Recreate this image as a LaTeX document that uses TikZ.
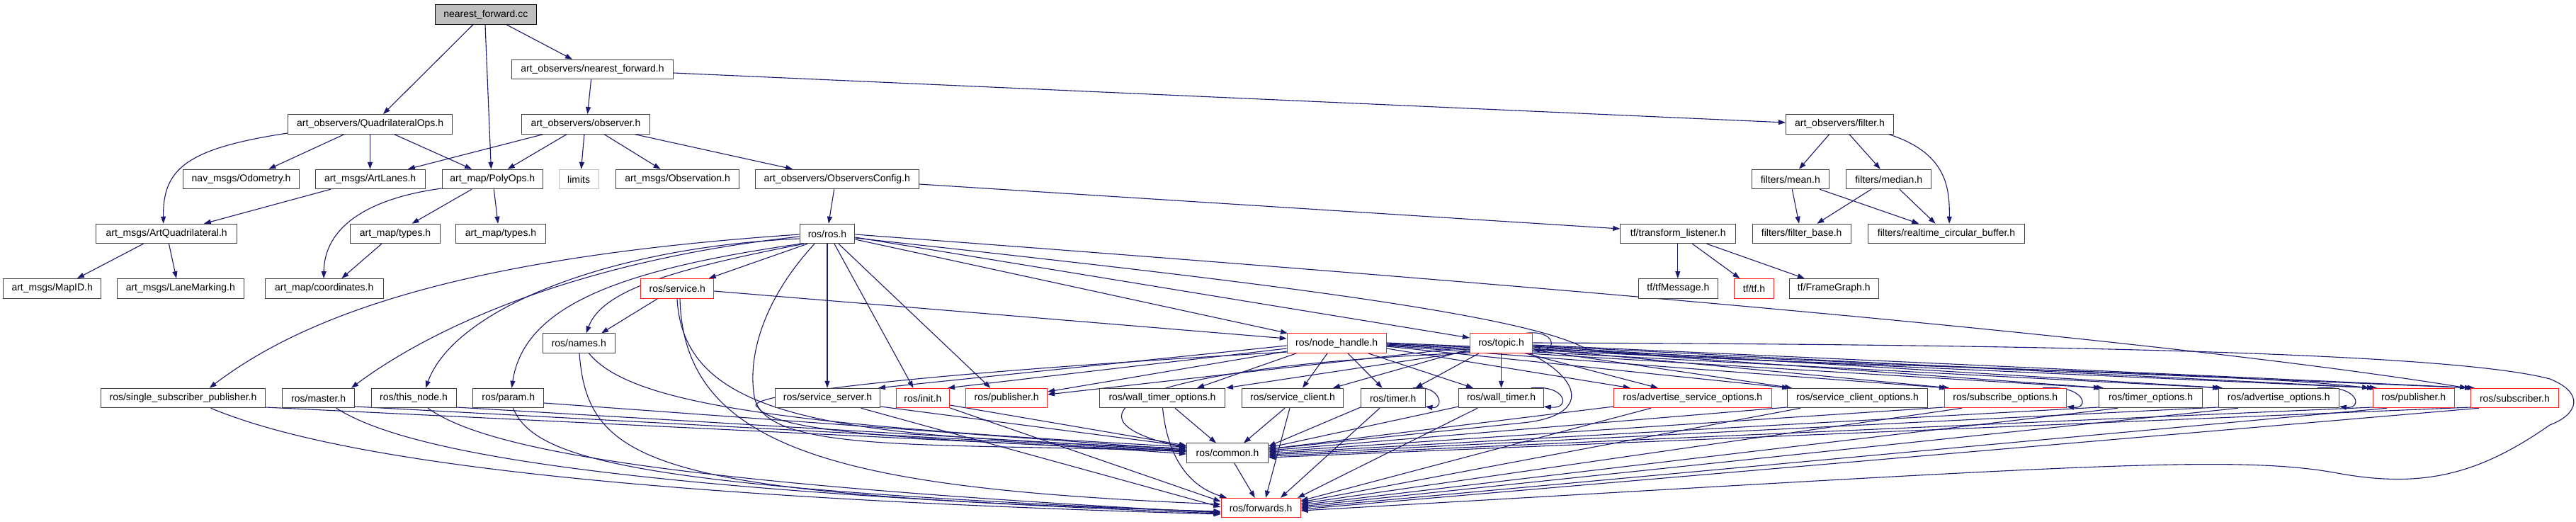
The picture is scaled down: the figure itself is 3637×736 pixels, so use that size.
\documentclass[tikz,border=0pt]{standalone}
\usepackage{fontspec}
\setmainfont{Liberation Sans}
\usetikzlibrary{arrows.meta}
\definecolor{edgeblue}{HTML}{191970}
\definecolor{bordergray}{HTML}{404040}
\definecolor{rootfill}{HTML}{BFBFBF}
\definecolor{limitgray}{HTML}{BFBFBF}
\definecolor{redb}{HTML}{FF2020}
\newcommand{\nodefontx}{\fontsize{14}{16}\selectfont}
\pgfdeclarelayer{bg}
\pgfsetlayers{bg,main}
\tikzset{
  nb/.style={draw=bordergray, line width=1pt, minimum height=27.5pt, inner sep=0pt, font=\nodefontx, fill=white},
  rb/.style={nb, draw=redb},
  e/.style={draw=edgeblue, line width=1.1pt, -{Triangle[length=10pt,width=7pt]}},
}
\begin{document}
\begin{tikzpicture}[x=1pt,y=-1pt]
\useasboundingbox (0,0) rectangle (3637,736);
% rank 0-2
\node[nb, draw=black, fill=rootfill, minimum width=142.8pt] (root) at (685.8,20.5) {nearest\_forward.cc};
\node[nb, minimum width=228pt] (nfh) at (836.5,98) {art\_observers/nearest\_forward.h};
\node[nb, minimum width=232.4pt] (quad) at (522.7,175.3) {art\_observers/QuadrilateralOps.h};
\node[nb, minimum width=180.1pt] (obs) at (827,175.3) {art\_observers/observer.h};
\node[nb, minimum width=152.1pt] (filter) at (2597.5,175.3) {art\_observers/filter.h};
% rank 3
\node[nb, minimum width=163.8pt] (odom) at (340.6,253) {nav\_msgs/Odometry.h};
\node[nb, minimum width=155.2pt] (lanes) at (522.6,253) {art\_msgs/ArtLanes.h};
\node[nb, minimum width=142.4pt] (poly) at (695.3,253) {art\_map/PolyOps.h};
\node[nb, draw=limitgray, minimum width=56pt] (limits) at (817.1,253) {limits};
\node[nb, minimum width=174.7pt] (observation) at (956.6,253) {art\_msgs/Observation.h};
\node[nb, minimum width=230.9pt] (config) at (1181.8,253) {art\_observers/ObserversConfig.h};
\node[nb, minimum width=109.4pt] (mean) at (2527.8,253) {filters/mean.h};
\node[nb, minimum width=120.2pt] (median) at (2666.7,253) {filters/median.h};
% rank 4
\node[nb, minimum width=198.8pt] (artquad) at (235.2,330) {art\_msgs/ArtQuadrilateral.h};
\node[nb, minimum width=127pt] (types1) at (558,330) {art\_map/types.h};
\node[nb, minimum width=126.8pt] (types2) at (707,330) {art\_map/types.h};
\node[nb, minimum width=77.8pt] (ros) at (1168,330) {ros/ros.h};
\node[nb, minimum width=162.8pt] (tl) at (2369.2,330) {tf/transform\_listener.h};
\node[nb, minimum width=138.9pt] (fbase) at (2543.7,330) {filters/filter\_base.h};
\node[nb, minimum width=221.4pt] (rcb) at (2748,330) {filters/realtime\_circular\_buffer.h};
% rank 5
\node[nb, minimum width=138.1pt] (mapid) at (73.7,407.3) {art\_msgs/MapID.h};
\node[nb, minimum width=179pt] (lanemark) at (254.8,407.3) {art\_msgs/LaneMarking.h};
\node[nb, minimum width=166.9pt] (coords) at (457.7,407.3) {art\_map/coordinates.h};
\node[rb, minimum width=102.7pt] (service) at (956.3,407.3) {ros/service.h};
\node[nb, minimum width=111.8pt] (tfmsg) at (2369.4,407.3) {tf/tfMessage.h};
\node[rb, minimum width=55.7pt] (tf) at (2476.5,407.3) {tf/tf.h};
\node[nb, minimum width=125.7pt] (framegraph) at (2589.3,407.3) {tf/FrameGraph.h};
% rank 6
\node[nb, minimum width=101.5pt] (names) at (817.3,484.7) {ros/names.h};
\node[rb, minimum width=140.1pt] (nh) at (1887.2,484.7) {ros/node\_handle.h};
\node[rb, minimum width=88.3pt] (topic) at (2119.6,484.7) {ros/topic.h};
% rank 7
\node[nb, minimum width=231.4pt] (ssp) at (258.5,562) {ros/single\_subscriber\_publisher.h};
\node[nb, minimum width=101.9pt] (master) at (449.7,562) {ros/master.h};
\node[nb, minimum width=120pt] (thisnode) at (584,562) {ros/this\_node.h};
\node[nb, minimum width=100pt] (param) at (717.7,562) {ros/param.h};
\node[nb, minimum width=148.3pt] (sserver) at (1168.6,562) {ros/service\_server.h};
\node[rb, minimum width=75.8pt] (init) at (1302.9,562) {ros/init.h};
\node[rb, minimum width=114.7pt] (pub1) at (1421.2,562) {ros/publisher.h};
\node[nb, minimum width=176.3pt] (wto) at (1641,562) {ros/wall\_timer\_options.h};
\node[nb, minimum width=143.7pt] (sclient) at (1825,562) {ros/service\_client.h};
\node[nb, minimum width=90.6pt] (timer) at (1966.7,562) {ros/timer.h};
\node[nb, minimum width=119.4pt] (wtimer) at (2119.6,562) {ros/wall\_timer.h};
\node[rb, minimum width=222.6pt] (aso) at (2389.8,562) {ros/advertise\_service\_options.h};
\node[nb, minimum width=197.6pt] (sco) at (2622.5,562) {ros/service\_client\_options.h};
\node[rb, minimum width=172.3pt] (subopt) at (2831.3,562) {ros/subscribe\_options.h};
\node[nb, minimum width=145.6pt] (topt) at (3036.5,562) {ros/timer\_options.h};
\node[nb, minimum width=170.3pt] (advopt) at (3217.2,562) {ros/advertise\_options.h};
\node[rb, minimum width=115pt] (pub2) at (3407.7,562) {ros/publisher.h};
\node[rb, minimum width=123.5pt] (sub) at (3550.4,562) {ros/subscriber.h};
% rank 8-9
\node[nb, minimum width=115.1pt] (common) at (1733,639.7) {ros/common.h};
\node[rb, minimum width=112.2pt] (forwards) at (1780.1,717.1) {ros/forwards.h};

\begin{pgfonlayer}{bg}
\fill[white] (0,0) rectangle (3637,736);
% top part
\draw[e] (668,0 |- root.south) -- (541,0 |- quad.north);
\draw[e] (685,0 |- root.south) -- (693.4,0 |- poly.north);
\draw[e] (715,0 |- root.south) -- (808,0 |- nfh.north);
\draw[e] (834.6,0 |- nfh.south) -- (829.5,0 |- obs.north);
\draw[e] (nfh.east |- 0,103) -- (filter.west |- 0,173);
\draw[e] (quad.west |- 0,188) .. controls (260,210) and (230,240) .. (230.7,0 |- artquad.north);
\draw[e] (486.3,0 |- quad.south) -- (379.3,0 |- odom.north);
\draw[e] (522.5,0 |- quad.south) -- (522.5,0 |- lanes.north);
\draw[e] (556.3,0 |- quad.south) -- (666.1,0 |- poly.north);
\draw[e] (767.3,0 |- obs.south) -- (575.8,0 |- lanes.north);
\draw[e] (800.3,0 |- obs.south) -- (716.7,0 |- poly.north);
\draw[e] (824.9,0 |- obs.south) -- (820.6,0 |- limits.north);
\draw[e] (852.9,0 |- obs.south) -- (932.6,0 |- observation.north);
\draw[e] (895.7,0 |- obs.south) -- (1119.3,0 |- config.north);
\draw[e] (466.8,0 |- lanes.south) -- (287.9,0 |- artquad.north);
\draw[e] (666.1,0 |- poly.south) -- (581.6,0 |- types1.north);
\draw[e] (697.3,0 |- poly.south) -- (703.1,0 |- types2.north);
\draw[e] (poly.west |- 0,266) .. controls (520,280) and (458,320) .. (457.1,0 |- coords.north);
\draw[e] (538.8,0 |- types1.south) -- (482.4,0 |- coords.north);
\draw[e] (202.3,0 |- artquad.south) -- (108.9,0 |- mapid.north);
\draw[e] (238.5,0 |- artquad.south) -- (249,0 |- lanemark.north);
\draw[e] (1177.7,0 |- config.south) -- (1169.9,0 |- ros.north);
\draw[e] (config.east |- 0,260) -- (tl.west |- 0,323);
\draw[e] (2582.8,0 |- filter.south) -- (2540,0 |- mean.north);
\draw[e] (2610.9,0 |- filter.south) -- (2654.8,0 |- median.north);
\draw[e] (2666.5,0 |- filter.south) .. controls (2745,215) and (2753,260) .. (2752.1,0 |- rcb.north);
\draw[e] (2530.3,0 |- mean.south) -- (2540,0 |- fbase.north);
\draw[e] (2569.2,0 |- mean.south) -- (2709.3,0 |- rcb.north);
\draw[e] (2642,0 |- median.south) -- (2565.3,0 |- fbase.north);
\draw[e] (2682,0 |- median.south) -- (2732.6,0 |- rcb.north);
\draw[e] (2368.8,0 |- tl.south) -- (2368.8,0 |- tfmsg.north);
\draw[e] (2389.4,0 |- tl.south) -- (2456.4,0 |- tf.north);
\draw[e] (2409.7,0 |- tl.south) -- (2547.8,0 |- framegraph.north);
% ros.h
\draw[e] (ros.west |- 0,331) .. controls (700,360) and (450,430) .. (295.7,0 |- ssp.north);
\draw[e] (ros.west |- 0,334) .. controls (800,370) and (600,470) .. (496,0 |- master.north);
\draw[e] (ros.west |- 0,337) .. controls (850,350) and (640,440) .. (601,0 |- thisnode.north);
\draw[e] (1130,0 |- ros.south) .. controls (880,380) and (740,430) .. (722.5,0 |- param.north);
\draw[e] (1135,0 |- ros.south) .. controls (950,380) and (850,410) .. (827.6,0 |- names.north);
\draw[e] (1140,0 |- ros.south) -- (1000.7,0 |- service.north);
\draw[e] (ros.east |- 0,338) -- (1818,0 |- nh.north);
\draw[e] (ros.east |- 0,335) -- (topic.west |- 0,477);
\draw[e] (1178,0 |- ros.south) -- (1289.5,0 |- init.north);
\draw[e] (1184,0 |- ros.south) -- (1398.4,0 |- pub1.north);
\draw[e] (1168,0 |- ros.south) -- (1168,0 |- sserver.north);
\draw[e] (1150,0 |- ros.south) .. controls (1080,420) and (1055,500) .. (1065,560) .. controls (1080,640) and (1300,625) .. (common.west |- 0,637);
\draw[e] (ros.east |- 0,331) .. controls (2000,390) and (3000,470) .. (3483,0 |- sub.north);
\draw[e] (ros.east |- 0,336) .. controls (1700,390) and (2150,440) .. (2240,493) .. controls (2400,515) and (3100,520) .. (3345,0 |- pub2.north);
% service.h, names.h
\draw[e] (928.7,0 |- service.south) -- (849,0 |- names.north);
\draw[e] (service.east |- 0,411) -- (nh.west |- 0,478);
\draw[e] (956,0 |- service.south) .. controls (965,600) and (1200,615) .. (common.west |- 0,633);
\draw[e] (960,0 |- service.south) .. controls (965,640) and (1200,690) .. (forwards.west |- 0,712);
\draw[e] (831.5,0 |- names.south) .. controls (890,570) and (1100,600) .. (common.west |- 0,631);
\draw[e] (818,0 |- names.south) .. controls (830,660) and (930,700) .. (forwards.west |- 0,722);
% left row nodes
\draw[e] (param.east |- 0,569) -- (common.west |- 0,635);
\draw[e] (724.5,0 |- param.south) .. controls (755,650) and (900,690) .. (forwards.west |- 0,723);
\draw[e] (thisnode.east |- 0,575) -- (common.west |- 0,636);
\draw[e] (604,0 |- thisnode.south) .. controls (680,630) and (900,680) .. (forwards.west |- 0,724);
\draw[e] (master.east |- 0,574) -- (common.west |- 0,637);
\draw[e] (474.6,0 |- master.south) .. controls (560,630) and (800,690) .. (forwards.west |- 0,725);
\draw[e] (ssp.east |- 0,575) -- (common.west |- 0,638);
\draw[e] (297.6,0 |- ssp.south) .. controls (450,640) and (800,700) .. (forwards.west |- 0,726);
\draw[e] (sserver.east |- 0,574) -- (common.west |- 0,630);
\draw[e] (1215.6,0 |- sserver.south) -- (forwards.west |- 0,716);
\draw[e] (init.east |- 0,572) -- (common.west |- 0,629);
\draw[e] (init.east |- 0,576) -- (forwards.west |- 0,708);
\draw[e] (1659,0 |- wto.south) -- (1717,0 |- common.north);
\draw[e] (1641.5,0 |- wto.south) .. controls (1650,660) and (1690,690) .. (1732,0 |- forwards.north);
\draw[e] (1814,0 |- sclient.south) -- (1756,0 |- common.north);
\draw[e] (1821,0 |- sclient.south) -- (1787,0 |- forwards.north);
% right row nodes
\draw[e] (timer.west |- 0,575) -- (common.east |- 0,630);
\draw[e] (1948,0 |- timer.south) -- (1808,0 |- forwards.north);
\draw[e] (1995,0 |- timer.north) .. controls (2035,543) and (2040,578) .. (timer.east |- 0,574);
\draw[e] (wtimer.west |- 0,574) -- (common.east |- 0,632);
\draw[e] (2086,0 |- wtimer.south) -- (1832,0 |- forwards.north);
\draw[e] (2162,0 |- wtimer.north) .. controls (2212,543) and (2218,578) .. (wtimer.east |- 0,574);
\draw[e] (aso.west |- 0,574) -- (common.east |- 0,634);
\draw[e] (2331,0 |- aso.south) -- (forwards.east |- 0,707);
\draw[e] (sco.west |- 0,575) -- (common.east |- 0,636);
\draw[e] (2542,0 |- sco.south) -- (forwards.east |- 0,709);
\draw[e] (subopt.west |- 0,575) -- (common.east |- 0,638);
\draw[e] (2770,0 |- subopt.south) -- (forwards.east |- 0,711);
\draw[e] (2884,0 |- subopt.north) .. controls (2946,543) and (2950,578) .. (subopt.east |- 0,574);
\draw[e] (topt.west |- 0,575) -- (common.east |- 0,640);
\draw[e] (2990,0 |- topt.south) -- (forwards.east |- 0,713);
\draw[e] (advopt.west |- 0,575) -- (common.east |- 0,642);
\draw[e] (3160,0 |- advopt.south) -- (forwards.east |- 0,715);
\draw[e] (3272,0 |- advopt.north) .. controls (3332,543) and (3336,578) .. (advopt.east |- 0,574);
\draw[e] (pub2.west |- 0,575) -- (common.east |- 0,644);
\draw[e] (3370,0 |- pub2.south) -- (forwards.east |- 0,717);
\draw[e] (sub.west |- 0,575) -- (common.east |- 0,646);
\draw[e] (3500,0 |- sub.south) -- (forwards.east |- 0,719);
\draw[e] (1742.7,0 |- common.south) -- (1771.8,0 |- forwards.north);
% node_handle.h
\draw[e] (nh.west |- 0,488) -- (1240,0 |- sserver.north);
\draw[e] (nh.west |- 0,492) -- (1338,0 |- init.north);
\draw[e] (nh.west |- 0,496) -- (pub1.east |- 0,553);
\draw[e] (1830,0 |- nh.south) -- (1690,0 |- wto.north);
\draw[e] (1874,0 |- nh.south) -- (1839,0 |- sclient.north);
\draw[e] (1903,0 |- nh.south) -- (1951.7,0 |- timer.north);
\draw[e] (1932,0 |- nh.south) -- (2080,0 |- wtimer.north);
\draw[e] (nh.east |- 0,492) -- (2301.8,0 |- aso.north);
\draw[e] (nh.east |- 0,489) -- (2526,0 |- sco.north);
\draw[e] (nh.east |- 0,488) -- (2748,0 |- subopt.north);
\draw[e] (nh.east |- 0,487) -- (2966,0 |- topt.north);
\draw[e] (nh.east |- 0,486) -- (3134,0 |- advopt.north);
\draw[e] (nh.east |- 0,485) -- (3352,0 |- pub2.north);
\draw[e] (nh.east |- 0,484) -- (3490,0 |- sub.north);
\draw[e] (nh.west |- 0,497) .. controls (1250,530) and (1040,560) .. (1070,575) .. controls (1100,620) and (1400,620) .. (common.west |- 0,641);
% topic.h
\draw[e] (2154,0 |- topic.north) .. controls (2196,465) and (2200,496) .. (topic.east |- 0,494);
\draw[e] (2088,0 |- topic.south) -- (1998.4,0 |- timer.north);
\draw[e] (2119.6,0 |- topic.south) -- (2119.6,0 |- wtimer.north);
\draw[e] (topic.west |- 0,493) -- (1882,0 |- sclient.north);
\draw[e] (topic.west |- 0,496) -- (1731,0 |- wto.north);
\draw[e] (topic.west |- 0,490) -- (pub1.east |- 0,557);
\draw[e] (2154,0 |- topic.south) -- (2340.8,0 |- aso.north);
\draw[e] (topic.east |- 0,494) -- (2530,0 |- sco.north);
\draw[e] (topic.east |- 0,492) -- (2752,0 |- subopt.north);
\draw[e] (topic.east |- 0,490) -- (2970,0 |- topt.north);
\draw[e] (topic.east |- 0,489) -- (3138,0 |- advopt.north);
\draw[e] (topic.east |- 0,488) -- (3356,0 |- pub2.north);
\draw[e] (topic.east |- 0,487) -- (3494,0 |- sub.north);
\draw[e] (2160,0 |- topic.south) .. controls (2240,540) and (2240,588) .. (2150,597) -- (common.east |- 0,634);
\draw[e] (topic.west |- 0,498) .. controls (1560,520) and (1500,595) .. (common.west |- 0,632);
\draw[e] (topic.east |- 0,484) .. controls (2800,486) and (3450,495) .. (3600,535) .. controls (3650,555) and (3640,585) .. (3600,600) .. controls (3500,670) and (3420,690) .. (3300,668) .. controls (3150,640) and (2900,660) .. (forwards.east |- 0,721);
\end{pgfonlayer}
\end{tikzpicture}
\end{document}
